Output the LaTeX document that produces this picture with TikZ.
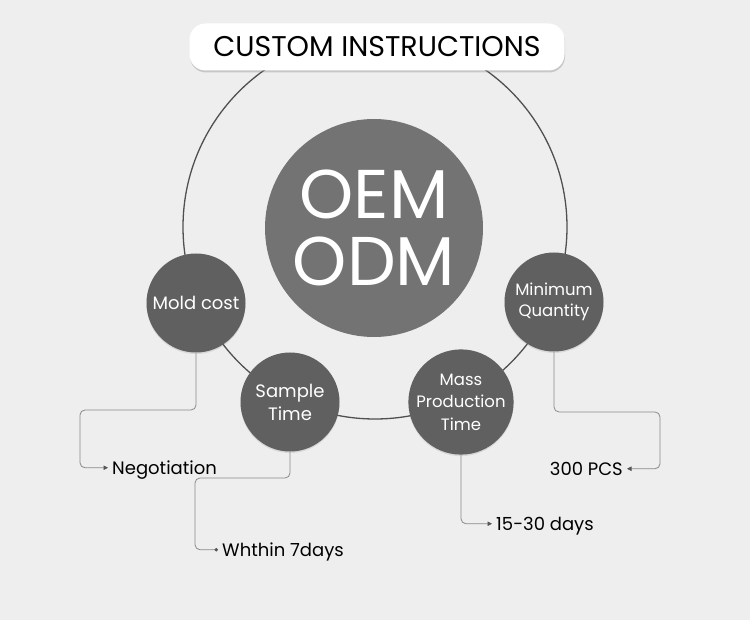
\documentclass[tikz,border=0pt]{standalone}
\usepackage{fontspec}
\setmainfont{Poppins}
\usetikzlibrary{arrows.meta,shadows}
\definecolor{paper}{HTML}{EEEEEE}
\definecolor{ringgray}{HTML}{505050}
\definecolor{discgray}{HTML}{606060}
\definecolor{hubgray}{HTML}{737373}
\definecolor{linkgray}{HTML}{8A8A8A}
\definecolor{tipgray}{HTML}{555555}

\begin{document}
\begin{tikzpicture}[x=1pt,y=-1pt,
    disc/.style={circle,fill=discgray,text=white,minimum size=99pt,
      inner sep=0pt,align=center,font=\fontsize{18}{23}\selectfont,
      drop shadow={opacity=0.2,shadow xshift=0pt,shadow yshift=-1.5pt}},
    note/.style={font=\fontsize{18}{20}\selectfont,text height=12.5pt,
      text depth=0pt,inner ysep=0pt,inner xsep=4pt},
    link/.style={draw=linkgray,line width=0.8pt,rounded corners=5pt},
    tip/.style={-{Triangle[length=4.5pt,width=4.5pt,color=tipgray]}},
    dot/.style={-{Circle[length=3.5pt,color=tipgray]}}]
    \fill[paper] (0,0) rectangle (750,620);
    \useasboundingbox (0,0) rectangle (750,620);

    \draw[ringgray,line width=1.3pt] (375,227) circle (192pt);

    \node[rounded corners=16pt,fill=white,minimum width=375pt,minimum height=47pt,
      font=\fontsize{28.5}{32}\selectfont,
      drop shadow={opacity=0.35,shadow xshift=0.5pt,shadow yshift=-2pt}]
      (title) at (377,47) {CUSTOM INSTRUCTIONS};

    \node[circle,fill=hubgray,text=white,minimum size=218pt,inner sep=0pt,
      align=center,font=\fontsize{69}{67}\selectfont] (hub) at (374,228)
      {OEM\\ODM};

    \node[disc] (mold) at (196,303) {Mold cost};
    \node[disc] (sample) at (290,402) {Sample\\Time};
    \node[disc,font=\fontsize{16.5}{22.5}\selectfont] (mass) at (461,402)
      {Mass\\Production\\Time};
    \node[disc,font=\fontsize{16.5}{21}\selectfont] (minq) at (554,302)
      {Minimum\\Quantity};

    \node[note,anchor=base west] (neg) at (108,474) {Negotiation};
    \node[note,anchor=base west] (seven) at (218,556) {Whthin 7days};
    \node[note,anchor=base west] (days) at (492,530) {15-30 days};
    \node[note,anchor=base east] (pcs) at (627,475) {300 PCS};

    \draw[link,tip] (mold.south) |- (80,410) |- (neg.west);
    \draw[link,dot] (sample.south) |- (195,478) |- (seven.west);
    \draw[link,tip] (mass.south) |- (days.west);
    \draw[link,tip] (minq.south) |- (660,412) |- (pcs.east);
  \end{tikzpicture}
\end{document}
